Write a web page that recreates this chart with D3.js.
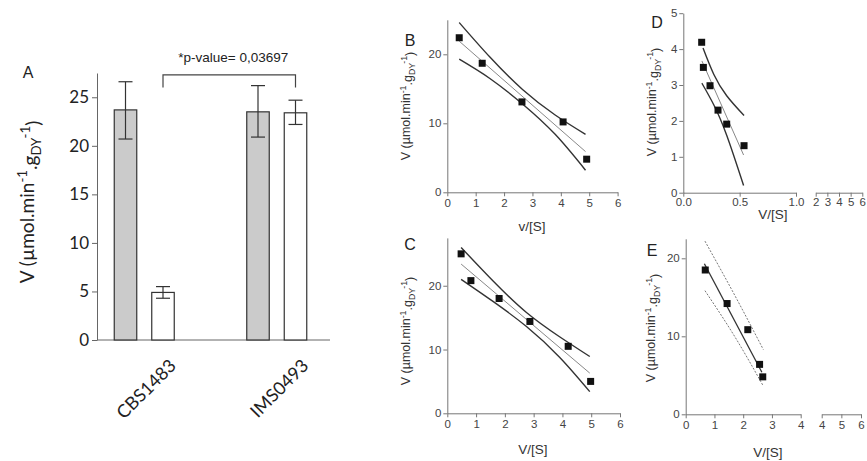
<!DOCTYPE html>
<html>
<head>
<meta charset="utf-8">
<script src="https://cdn.jsdelivr.net/npm/d3@7"></script>
<style>
  body { margin: 0; background: #fff; }
  svg { display: block; }
</style>
</head>
<body>
<div id="plot"></div>
<script>
// panel A: specific activity per strain (grey = first condition, white = second)
const strains = ["CBS1483", "IMS0493"];
const greyMean = [23.7, 23.5];
const greyLow = [20.7, 20.9];
const greyHigh = [26.6, 26.2];
const whiteMean = [4.9, 23.4];
const whiteLow = [4.3, 22.2];
const whiteHigh = [5.5, 24.7];
const aTicks = [0, 5, 10, 15, 20, 25];

// panel B
const bX = [0.42, 1.23, 2.63, 4.08, 4.91];
const bY = [22.4, 18.7, 13.1, 10.2, 4.8];
const bFit = [[0.42, 21.9], [4.87, 5.9]];
const bUpper = [[0.42, 24.6], [1.5, 19.6], [2.65, 14.9], [3.8, 11.2], [4.87, 8.4]];
const bLower = [[0.42, 19.3], [1.5, 16.5], [2.65, 12.8], [3.8, 8.4], [4.87, 3.2]];

// panel C
const cX = [0.48, 0.82, 1.8, 2.87, 4.2, 4.98];
const cY = [25.0, 20.8, 18.0, 14.4, 10.5, 5.0];
const cFit = [[0.48, 23.4], [4.95, 6.3]];
const cUpper = [[0.48, 26.0], [1.6, 20.7], [2.75, 15.8], [3.9, 12.0], [4.95, 8.9]];
const cLower = [[0.48, 21.0], [1.6, 17.5], [2.75, 13.6], [3.9, 8.8], [4.95, 3.4]];

// panel D
const dX = [0.163, 0.178, 0.237, 0.308, 0.385, 0.539];
const dY = [4.19, 3.49, 2.98, 2.30, 1.91, 1.31];
const dFit = [[0.165, 3.67], [0.535, 1.05]];
const dUpper = [[0.175, 4.03], [0.27, 3.3], [0.385, 2.7], [0.539, 2.15]];
const dLower = [[0.165, 3.05], [0.27, 2.45], [0.385, 1.6], [0.535, 0.2]];

// panel E
const eX = [0.68, 1.44, 2.16, 2.57, 2.68];
const eY = [18.5, 14.2, 10.85, 6.4, 4.8];
const eFit = [[0.65, 19.3], [2.65, 5.4]];
const eUpper = [[0.67, 22.2], [1.7, 15.3], [2.7, 8.3]];
const eLower = [[0.67, 15.85], [1.7, 10.0], [2.68, 3.75]];

const W = 867, H = 461;
const svg = d3.select("#plot").append("svg")
    .attr("width", W).attr("height", H);

// writes V (µmol.min-1.gDY-1) into a text element
function vLabel(t) {
  t.append("tspan").text("V (\u00b5mol.min");
  t.append("tspan").attr("dy", "-0.5em").attr("font-size", "0.7em").text("-1");
  t.append("tspan").attr("dy", "0.5em").text(".g");
  t.append("tspan").attr("dy", "0.3em").attr("font-size", "0.7em").text("DY");
  t.append("tspan").attr("dy", "-0.85em").attr("font-size", "0.7em").text("-1");
  t.append("tspan").attr("dy", "0.55em").text(")");
}

// ---------- panel A ----------
const gA = svg.append("g").attr("font-family", "Lato, 'Open Sans', sans-serif");
const yA = d3.scaleLinear().domain([0, 27.5]).range([340, 73]);
const xA = d3.scaleBand().domain(strains).range([78, 343]);
const sub = d3.scaleBand().domain(["grey", "white"]).range([-30, 30]).paddingInner(0.4);
const cx = s => xA(s) + xA.bandwidth() / 2;

const axA = gA.append("g").attr("transform", "translate(97,0)")
  .call(d3.axisLeft(yA).tickValues(aTicks).tickSize(5).tickSizeOuter(0));
axA.select(".domain").attr("stroke", "#666");
axA.selectAll(".tick line").attr("stroke", "#666");
axA.selectAll(".tick text").attr("font-size", 17).attr("fill", "#222")
  .attr("font-family", "Lato, sans-serif").attr("x", -8);

gA.append("line").attr("x1", 97).attr("x2", 330)
  .attr("y1", yA(0)).attr("y2", yA(0)).attr("stroke", "#666");

const bars = [];
strains.forEach((s, i) => {
  bars.push({ s: s, k: "grey", v: greyMean[i], lo: greyLow[i], hi: greyHigh[i] });
  bars.push({ s: s, k: "white", v: whiteMean[i], lo: whiteLow[i], hi: whiteHigh[i] });
});

gA.selectAll("rect.bar").data(bars).enter().append("rect")
  .attr("class", "bar")
  .attr("x", d => cx(d.s) + sub(d.k))
  .attr("width", sub.bandwidth())
  .attr("y", d => yA(d.v))
  .attr("height", d => yA(0) - yA(d.v))
  .attr("fill", d => d.k === "grey" ? "#cbcbcb" : "#fff")
  .attr("stroke", "#333").attr("stroke-width", 1.2);

const eb = gA.selectAll("g.err").data(bars).enter().append("g").attr("class", "err")
  .attr("stroke", "#333").attr("stroke-width", 1.2);
const ebx = d => cx(d.s) + sub(d.k) + sub.bandwidth() / 2;
eb.append("line").attr("x1", ebx).attr("x2", ebx)
  .attr("y1", d => yA(d.lo)).attr("y2", d => yA(d.hi));
eb.append("line").attr("x1", d => ebx(d) - 7).attr("x2", d => ebx(d) + 7)
  .attr("y1", d => yA(d.hi)).attr("y2", d => yA(d.hi));
eb.append("line").attr("x1", d => ebx(d) - 7).attr("x2", d => ebx(d) + 7)
  .attr("y1", d => yA(d.lo)).attr("y2", d => yA(d.lo));

// significance bracket between the two white bars
const bl = ebx(bars[1]), br = ebx(bars[3]);
gA.append("path")
  .attr("d", `M${bl},${yA(26.0)}V${yA(27.3)}H${br}V${yA(26.0)}`)
  .attr("fill", "none").attr("stroke", "#444").attr("stroke-width", 1.2);
gA.append("text").attr("x", (bl + br) / 2 + 4).attr("y", 62)
  .attr("text-anchor", "middle").attr("font-size", 13.5)
  .attr("font-family", "'Liberation Sans', Arial, sans-serif").attr("fill", "#222")
  .text("*p-value= 0,03697");

gA.selectAll("text.cat").data(strains).enter().append("text")
  .attr("class", "cat")
  .attr("transform", s => `translate(${cx(s) + 24},${358}) rotate(-45)`)
  .attr("text-anchor", "end").attr("dy", "0.7em")
  .attr("font-size", 18).attr("fill", "#222").text(s => s);

gA.append("text").attr("x", 28).attr("y", 78).attr("text-anchor", "middle")
  .attr("font-size", 16).attr("fill", "#222")
  .attr("font-family", "'Liberation Sans', Arial, sans-serif").text("A");

const labA = gA.append("text").attr("transform", "translate(34,202) rotate(-90)")
  .attr("text-anchor", "middle").attr("font-size", 19).attr("fill", "#222");
vLabel(labA);

// ---------- scatter panels ----------
function scatter(cfg) {
  const g = svg.append("g").attr("font-family", "'Liberation Sans', Arial, sans-serif");
  const x = d3.scaleLinear().domain(cfg.xd).range(cfg.xr);
  const y = d3.scaleLinear().domain(cfg.yd).range(cfg.yr);
  const y0 = y(0);
  const xpad = cfg.xpad == null ? 3 : cfg.xpad;

  function style(a) {
    a.select(".domain").attr("stroke", "#777");
    a.selectAll(".tick line").attr("stroke", "#777");
    a.selectAll(".tick text").attr("font-size", 11.5).attr("fill", "#444")
      .attr("font-family", "'Liberation Sans', Arial, sans-serif");
  }
  style(g.append("g").attr("transform", `translate(0,${y0})`)
    .call(d3.axisBottom(x).tickValues(cfg.xt).tickFormat(cfg.xf || d3.format("d"))
      .tickSize(4).tickPadding(xpad).tickSizeOuter(0)));
  if (cfg.x2d) {
    const x2 = d3.scaleLinear().domain(cfg.x2d).range(cfg.x2r);
    style(g.append("g").attr("transform", `translate(0,${y0})`)
      .call(d3.axisBottom(x2).tickValues(cfg.x2t).tickFormat(d3.format("d"))
        .tickSize(4).tickPadding(xpad).tickSizeOuter(0)));
  }
  style(g.append("g").attr("transform", `translate(${cfg.xr[0]},0)`)
    .call(d3.axisLeft(y).tickValues(cfg.yt).tickFormat(d3.format("d"))
      .tickSize(4).tickPadding(2).tickSizeOuter(0)));

  const line = d3.line().x(d => x(d[0])).y(d => y(d[1])).curve(d3.curveNatural);
  g.append("path").attr("d", line(cfg.upper)).attr("fill", "none")
    .attr("stroke", cfg.bandColor).attr("stroke-width", cfg.bandWidth)
    .attr("stroke-dasharray", cfg.bandDash || null);
  g.append("path").attr("d", line(cfg.lower)).attr("fill", "none")
    .attr("stroke", cfg.bandColor).attr("stroke-width", cfg.bandWidth)
    .attr("stroke-dasharray", cfg.bandDash || null);
  g.append("path").attr("d", line(cfg.fit)).attr("fill", "none")
    .attr("stroke", cfg.fitColor).attr("stroke-width", cfg.fitWidth);

  g.selectAll("rect.pt").data(cfg.px).enter().append("rect")
    .attr("x", (d, i) => x(d) - 3.5).attr("y", (d, i) => y(cfg.py[i]) - 3.5)
    .attr("width", 7).attr("height", 7).attr("fill", "#111");

  g.append("text").attr("x", cfg.xl[0]).attr("y", cfg.xl[1]).attr("text-anchor", "middle")
    .attr("font-size", 13.5).attr("fill", "#333").text(cfg.xlabel);
  g.append("text").attr("x", cfg.tag[0]).attr("y", cfg.tag[1]).attr("text-anchor", "middle")
    .attr("font-size", 16).attr("fill", "#222").text(cfg.name);
  const lab = g.append("text").attr("transform", `translate(${cfg.yl[0]},${cfg.yl[1]}) rotate(-90)`)
    .attr("text-anchor", "middle").attr("font-size", 12.5).attr("fill", "#333");
  vLabel(lab);
}

scatter({
  name: "B", tag: [410, 46],
  xd: [0, 6], xr: [447.3, 617.6], xt: [0, 1, 2, 3, 4, 5, 6],
  yd: [0, 25], yr: [192.3, 19.8], yt: [0, 10, 20],
  px: bX, py: bY, fit: bFit, upper: bUpper, lower: bLower,
  bandColor: "#333", bandWidth: 1.4, fitColor: "#888", fitWidth: 1,
  xlabel: "v/[S]", xl: [532, 231], yl: [410, 106]
});

scatter({
  name: "C", tag: [410, 250],
  xd: [0, 6], xr: [447.3, 620], xt: [0, 1, 2, 3, 4, 5, 6],
  yd: [0, 27.5], yr: [413.3, 237.9], yt: [0, 10, 20],
  px: cX, py: cY, fit: cFit, upper: cUpper, lower: cLower,
  bandColor: "#333", bandWidth: 1.4, fitColor: "#888", fitWidth: 1,
  xlabel: "V/[S]", xl: [533, 454], yl: [410, 331]
});

scatter({
  name: "D", tag: [657, 28],
  xd: [0, 1], xr: [683.3, 796], xt: [0, 0.5, 1], xf: d3.format(".1f"), xpad: 1,
  x2d: [2, 6], x2r: [815.7, 862.3], x2t: [2, 3, 4, 5, 6],
  yd: [0, 5], yr: [192.7, 13.2], yt: [0, 1, 2, 3, 4, 5],
  px: dX, py: dY, fit: dFit, upper: dUpper, lower: dLower,
  bandColor: "#333", bandWidth: 1.4, fitColor: "#888", fitWidth: 1,
  xlabel: "V/[S]", xl: [773, 219], yl: [656, 102]
});

scatter({
  name: "E", tag: [652, 256],
  xd: [0, 4], xr: [685.7, 800.7], xt: [0, 1, 2, 3, 4],
  x2d: [4, 6], x2r: [821.7, 861], x2t: [4, 5, 6],
  yd: [0, 22.5], yr: [414.3, 238.8], yt: [0, 10, 20],
  px: eX, py: eY, fit: eFit, upper: eUpper, lower: eLower,
  bandColor: "#777", bandWidth: 1, bandDash: "2,1.5", fitColor: "#333", fitWidth: 1.3,
  xlabel: "V/[S]", xl: [768, 457], yl: [655, 328]
});
</script>
</body>
</html>
